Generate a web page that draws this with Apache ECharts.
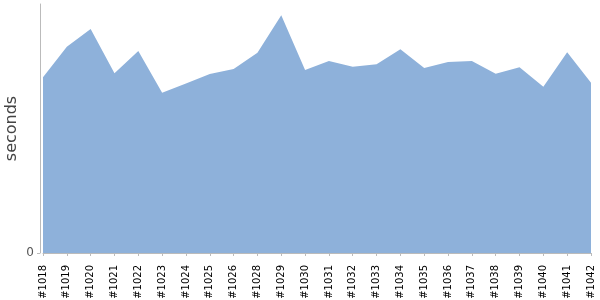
<!DOCTYPE html>
<html>
<head>
<meta charset="utf-8">
<script src="https://cdn.jsdelivr.net/npm/echarts@6/dist/echarts.min.js"></script>
<style>html,body{margin:0;padding:0;background:#fff}#c{width:600px;height:300px}</style>
</head>
<body>
<div id="c"></div>
<script>
const categories = ['#1018','#1019','#1020','#1021','#1022','#1023','#1024','#1025','#1026','#1028','#1029','#1030','#1031','#1032','#1033','#1034','#1035','#1036','#1037','#1038','#1039','#1040','#1041','#1042'];
const seconds = [175.7,206.3,224,179.7,202,160.3,169.5,179,184,200.3,237.7,183,192,186.3,188.7,203.7,185,191,192,179.3,185.7,166.3,200.7,170.3];
const yTicks = [0];
const yMax = 249;

const chart = echarts.init(document.getElementById('c'), null, {renderer:'canvas'});
chart.setOption({
  animation:false,
  grid:{left:43,right:9,top:4,bottom:47,containLabel:false,outerBoundsMode:'none'},
  xAxis:{
    type:'category', data:categories, boundaryGap:false, offset:4,
    axisLine:{lineStyle:{color:'#bbbbbb',width:1}},
    axisTick:{show:true,length:3,alignWithLabel:true,lineStyle:{color:'#bbbbbb'}},
    axisLabel:{rotate:90,interval:0,margin:8,fontFamily:'DejaVu Sans',fontSize:10,color:'#000'},
    splitLine:{show:false}
  },
  yAxis:{
    type:'value', min:0, max:yMax, offset:3,
    name:'seconds', nameLocation:'middle', nameGap:20, nameMoveOverlap:false,
    nameTextStyle:{fontFamily:'DejaVu Sans',fontSize:16,color:'#444'},
    axisLine:{show:true,lineStyle:{color:'#bbbbbb',width:1}},
    axisTick:{show:true,length:3,customValues:yTicks,lineStyle:{color:'#bbbbbb'}},
    axisLabel:{customValues:yTicks,margin:6,fontFamily:'DejaVu Sans',fontSize:12,color:'#555'},
    splitLine:{show:false}
  },
  series:[{
    type:'line', data:seconds, symbol:'none',
    lineStyle:{width:0}, areaStyle:{color:'#8EB1DA',opacity:1}
  }]
});
</script>
</body>
</html>
